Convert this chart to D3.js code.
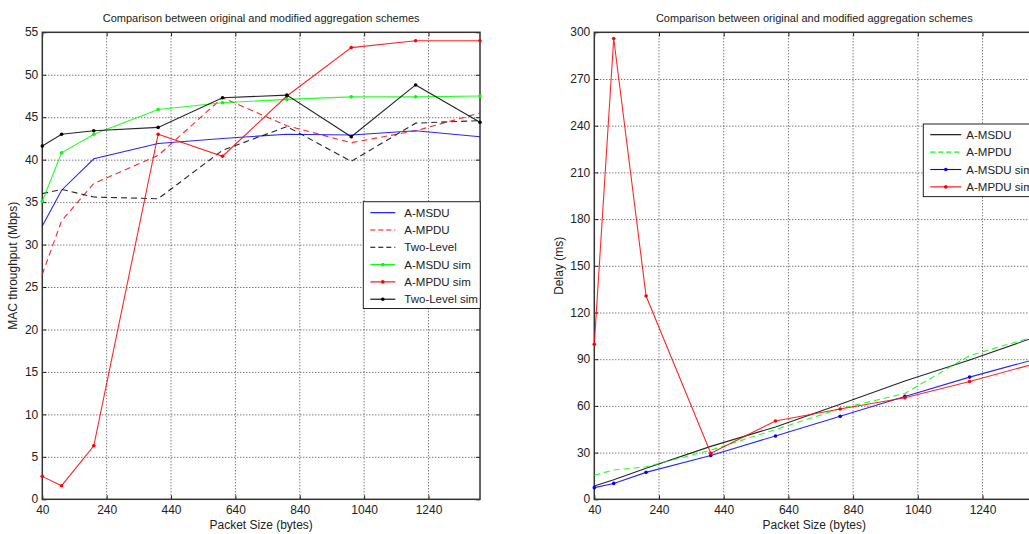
<!DOCTYPE html>
<html><head><meta charset="utf-8">
<script src="https://cdn.jsdelivr.net/npm/d3@7"></script>
<style>
body{margin:0;background:#fff;}
svg{display:block;font-family:"Liberation Sans",Arial,sans-serif;}
</style></head><body>
<svg id="c" width="1029" height="534"></svg>
<script>
// ---------- data ----------
const packetSizes = [40, 100, 200, 400, 600, 800, 1000, 1200, 1400];
const xTicks = [40, 240, 440, 640, 840, 1040, 1240];
const thrTicks = [0, 5, 10, 15, 20, 25, 30, 35, 40, 45, 50, 55];
const delayTicks = [0, 30, 60, 90, 120, 150, 180, 210, 240, 270, 300];

// Throughput (Mbps)
const thrAMSDU      = [32.2, 36.4, 40.1, 41.9, 42.5, 43.0, 42.9, 43.4, 42.7];
const thrAMPDU      = [26.5, 32.8, 37.2, 40.5, 47.3, 44.0, 42.0, 43.4, 45.5];
const thrTwoLevel   = [36.0, 36.5, 35.6, 35.4, 41.1, 43.9, 39.8, 44.3, 44.6];
const thrAMSDUsim   = [35.1, 40.8, 43.0, 45.9, 46.7, 47.1, 47.4, 47.4, 47.5];
const thrAMPDUsim   = [2.7, 1.6, 6.3, 43.0, 40.4, 47.5, 53.2, 54.0, 54.0];
const thrTwoLevelSim= [41.6, 43.0, 43.4, 43.8, 47.3, 47.6, 42.7, 48.8, 44.4];

// Delay (ms)
const dlyAMSDU    = [8.5, 12.5, 20.0, 34.0, 46.5, 61.0, 76.0, 89.5, 104.0];
const dlyAMPDU    = [15.5, 18.8, 20.9, 31.6, 44.8, 58.2, 68.0, 92.3, 104.5];
const dlyAMSDUsim = [7.5, 10.2, 17.3, 28.1, 40.7, 53.3, 66.1, 78.5, 89.8];
const dlyAMPDUsim = [99.6, 296.0, 130.6, 29.6, 50.3, 58.0, 65.2, 75.7, 87.0];

const thrSeries = [
  {name:"A-MSDU", values:thrAMSDU, color:"#0000ff", dash:null, marker:false},
  {name:"A-MPDU", values:thrAMPDU, color:"#ff0000", dash:"6,4", marker:false},
  {name:"Two-Level", values:thrTwoLevel, color:"#000000", dash:"6,4", marker:false},
  {name:"A-MSDU sim", values:thrAMSDUsim, color:"#00ff00", dash:null, marker:true},
  {name:"A-MPDU sim", values:thrAMPDUsim, color:"#ff0000", dash:null, marker:true},
  {name:"Two-Level sim", values:thrTwoLevelSim, color:"#000000", dash:null, marker:true}
];
const dlySeries = [
  {name:"A-MSDU", values:dlyAMSDU, color:"#000000", dash:null, marker:false},
  {name:"A-MPDU", values:dlyAMPDU, color:"#00ff00", dash:"6,4", marker:false},
  {name:"A-MSDU sim", values:dlyAMSDUsim, color:"#0000ff", dash:null, marker:true},
  {name:"A-MPDU sim", values:dlyAMPDUsim, color:"#ff0000", dash:null, marker:true}
];

const svg = d3.select("#c");
const fmt = d3.format("d");

function panel(opt){
  const {x0,x1,y0,y1,yDomain,yTicks,series,ylabel,yLabelX,legend} = opt;
  const x = d3.scaleLinear().domain([40,1400]).range([x0,x1]);
  const y = d3.scaleLinear().domain(yDomain).range([y1,y0]);
  const g = svg.append("g");
  // grid
  g.append("g").selectAll("line").data(xTicks.slice(1)).join("line")
    .attr("x1",d=>x(d)).attr("x2",d=>x(d)).attr("y1",y0).attr("y2",y1)
    .attr("stroke","#444").attr("stroke-width",1).attr("stroke-dasharray","1,2");
  g.append("g").selectAll("line").data(yTicks.slice(1,-1)).join("line")
    .attr("x1",x0).attr("x2",x1).attr("y1",d=>y(d)+0.5).attr("y2",d=>y(d)+0.5)
    .attr("stroke","#444").attr("stroke-width",1).attr("stroke-dasharray","1,2");
  // axes (MATLAB style inward ticks)
  const ax = g.append("g").attr("transform",`translate(0,${y1})`)
    .call(d3.axisBottom(x).tickValues(xTicks).tickFormat(fmt).tickSizeInner(-4).tickSizeOuter(0).tickPadding(6));
  const axT = g.append("g").attr("transform",`translate(0,${y0})`)
    .call(d3.axisTop(x).tickValues(xTicks).tickSizeInner(-4).tickSizeOuter(0).tickFormat(""));
  const ay = g.append("g").attr("transform",`translate(${x0},0)`)
    .call(d3.axisLeft(y).tickValues(yTicks).tickFormat(fmt).tickSizeInner(-4).tickSizeOuter(0).tickPadding(4));
  const ayR = g.append("g").attr("transform",`translate(${x1},0)`)
    .call(d3.axisRight(y).tickValues(yTicks).tickSizeInner(-4).tickSizeOuter(0).tickFormat(""));
  [ax,axT,ay,ayR].forEach(a=>{
    a.selectAll(".domain").remove();
    a.selectAll("line").attr("stroke","#222");
    a.selectAll("text").attr("font-size",12).attr("fill","#222").attr("font-family","Liberation Sans, Arial, sans-serif");
  });
  ay.selectAll("text").attr("dy","0.3em");
  // box
  g.append("rect").attr("x",x0).attr("y",y0).attr("width",x1-x0).attr("height",y1-y0)
    .attr("fill","none").attr("stroke","#333").attr("stroke-width",1.5);
  // lines
  const line = d3.line().x((d,i)=>x(packetSizes[i])).y(d=>y(d));
  const clip = "clip"+Math.round(x0);
  svg.append("defs").append("clipPath").attr("id",clip).append("rect")
    .attr("x",x0-3).attr("y",y0-3).attr("width",x1-x0+6).attr("height",y1-y0+6);
  const lg = g.append("g").attr("clip-path",`url(#${clip})`);
  series.forEach(s=>{
    lg.append("path").attr("d",line(s.values)).attr("fill","none")
      .attr("stroke",s.color).attr("stroke-width",1.1).attr("stroke-opacity",0.85)
      .attr("stroke-dasharray",s.dash);
    if(s.marker){
      lg.selectAll(null).data(s.values).join("circle")
        .attr("cx",(d,i)=>x(packetSizes[i])).attr("cy",d=>y(d)).attr("r",1.8)
        .attr("fill",s.color);
    }
  });
  // title & labels
  g.append("text").attr("x",(x0+x1)/2).attr("y",22).attr("text-anchor","middle")
    .attr("font-size",11).attr("fill","#222").text("Comparison between original and modified aggregation schemes");
  g.append("text").attr("x",(x0+x1)/2).attr("y",529).attr("text-anchor","middle")
    .attr("font-size",12).attr("fill","#222").text("Packet Size (bytes)");
  g.append("text").attr("transform",`translate(${yLabelX},${(y0+y1)/2}) rotate(-90)`)
    .attr("text-anchor","middle").attr("font-size",12).attr("fill","#222").text(ylabel);
  // legend
  const L = legend;
  const lgd = g.append("g");
  lgd.append("rect").attr("x",L.x).attr("y",L.y).attr("width",L.w).attr("height",L.rowH*series.length+L.pad)
    .attr("fill","#fff").attr("stroke","#222").attr("stroke-width",1);
  series.forEach((s,i)=>{
    const yy = L.y + L.first + i*L.rowH;
    lgd.append("line").attr("x1",L.x+7).attr("x2",L.x+L.lineW).attr("y1",yy).attr("y2",yy)
      .attr("stroke",s.color).attr("stroke-width",1.1).attr("stroke-dasharray",s.dash ? "5,3" : null);
    if(s.marker) lgd.append("circle").attr("cx",L.x+7+(L.lineW-7)/2).attr("cy",yy).attr("r",1.8).attr("fill",s.color);
    lgd.append("text").attr("x",L.x+L.lineW+L.gap).attr("y",yy).attr("dy","0.35em")
      .attr("font-size",11.5).attr("fill","#222").text(s.name);
  });
}

panel({x0:42.3,x1:480,y0:32.3,y1:499.3,yDomain:[0,55],yTicks:thrTicks,series:thrSeries,
  ylabel:"MAC throughput (Mbps)",yLabelX:17,
  legend:{x:363.3,y:201.7,w:117,rowH:17.3,first:11,pad:3,lineW:32,gap:9}});
panel({x0:594.3,x1:1034.3,y0:32.3,y1:499.3,yDomain:[0,300],yTicks:delayTicks,series:dlySeries,
  ylabel:"Delay (ms)",yLabelX:563,
  legend:{x:923.3,y:124,w:120,rowH:17.4,first:10.7,pad:3,lineW:38,gap:5}});
</script>
</body></html>
